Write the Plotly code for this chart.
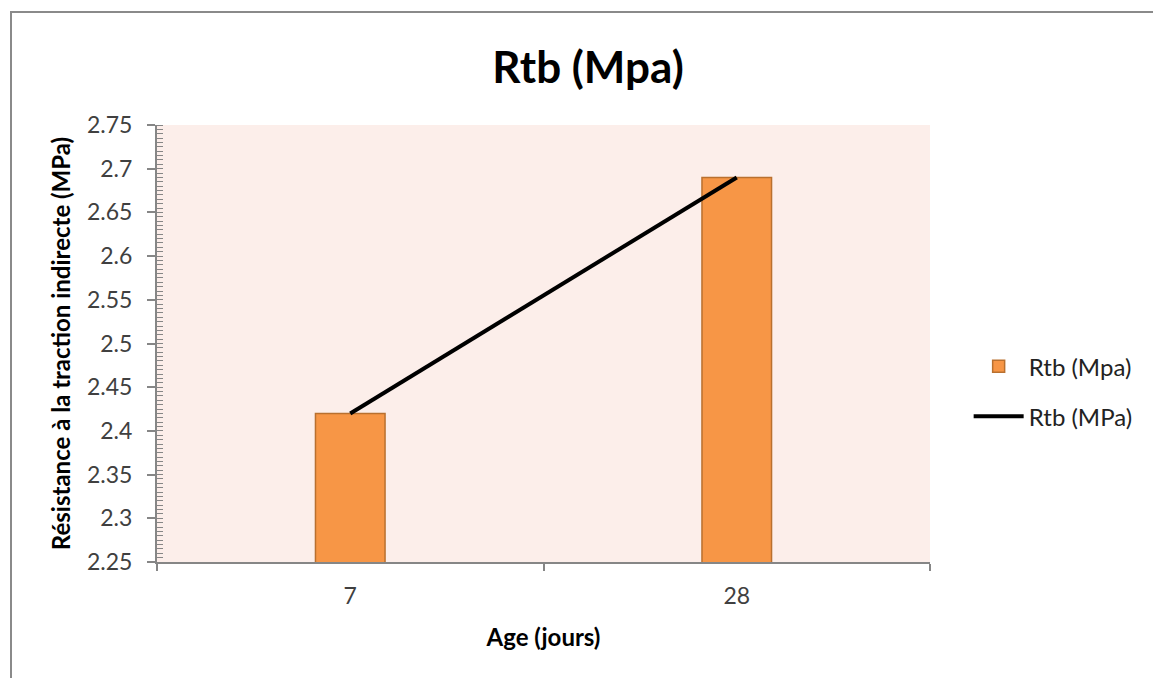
import plotly.graph_objects as go

categories = ["7", "28"]
bar_values = [2.42, 2.69]
line_values = [2.42, 2.69]
bar_name = "Rtb (Mpa)"
line_name = "Rtb (MPa)"

FONT = "Lato, 'Open Sans', sans-serif"

fig = go.Figure()
fig.add_trace(go.Bar(
    x=categories, y=bar_values, name=bar_name, legendgroup="a",
    marker=dict(color="#F79646", line=dict(color="#B9702F", width=1.5)),
    width=0.18,
))
fig.add_trace(go.Scatter(
    x=categories, y=line_values, name=line_name, mode="lines", legendgroup="b",
    line=dict(color="black", width=4),
))

fig.update_layout(
    width=1153, height=678,
    margin=dict(l=157, r=223, t=125, b=116),
    paper_bgcolor="white",
    plot_bgcolor="#FCEEEA",
    font=dict(family=FONT, color="#404040", size=23),
    title=dict(text="<b>Rtb (Mpa)</b>", x=0.51, xanchor="center", y=0.9, yanchor="middle",
               font=dict(family=FONT, size=44, color="black")),
    showlegend=True,
    legend=dict(x=1.05, y=0.39, xanchor="left", yanchor="middle",
                font=dict(family=FONT, size=24, color="#222"),
                traceorder="grouped", tracegroupgap=16, itemwidth=50,
                bgcolor="rgba(0,0,0,0)"),
)
fig.update_xaxes(
    type="category", range=[-0.5, 1.5],
    tickson="boundaries", ticks="outside", ticklen=7, tickwidth=1.5, tickcolor="#868686",
    showline=True, linecolor="#868686", linewidth=2,
    showgrid=False, zeroline=False,
    tickfont=dict(size=23, color="#404040"), ticklabelstandoff=12,
    title=dict(text="<b>Age (jours)</b>", font=dict(size=24, color="black"), standoff=22),
)
fig.update_yaxes(
    range=[2.25, 2.75], dtick=0.05, tick0=2.25,
    ticks="outside", ticklen=8, tickwidth=1.5, tickcolor="#868686",
    minor=dict(dtick=0.005, ticks="inside", ticklen=6, tickwidth=1, tickcolor="#868686", showgrid=False),
    showline=True, linecolor="#868686", linewidth=2,
    showgrid=False, zeroline=False,
    tickfont=dict(size=23, color="#404040"), ticklabelstandoff=10,
    title=dict(text="<b>Résistance à la traction indirecte (MPa)</b>", font=dict(size=24, color="black"), standoff=10),
)

# outer chart frame
fig.add_shape(type="rect", xref="paper", yref="paper",
              x0=(11 - 157) / 773, x1=1.5, y0=-0.6, y1=(562 - 12) / 437,
              line=dict(color="#8A8A8A", width=2), fillcolor="rgba(0,0,0,0)", layer="below")

fig.write_html("out.html")
